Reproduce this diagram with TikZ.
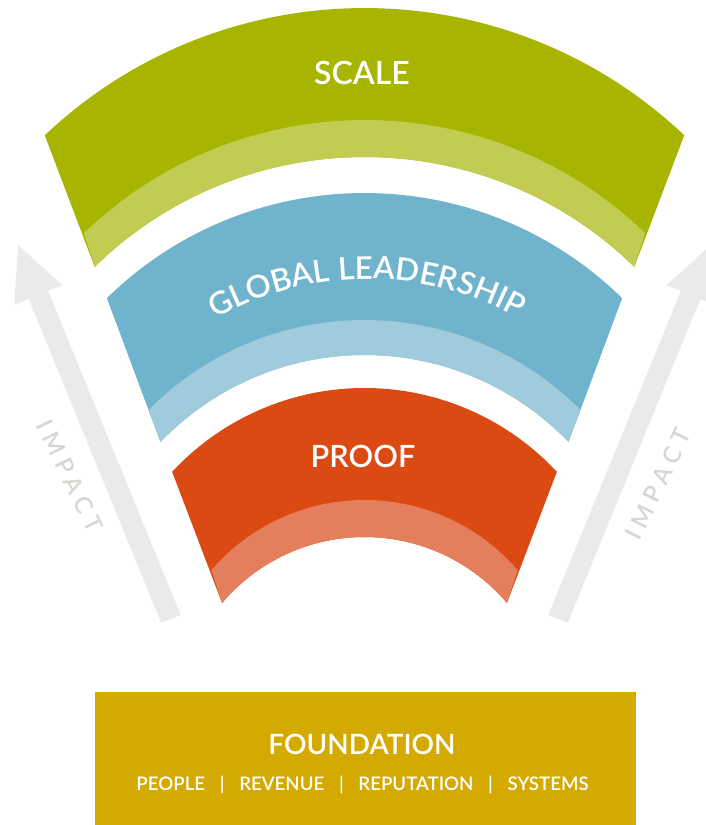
\documentclass[tikz,border=0pt]{standalone}
\usepackage{fontspec}
\IfFontExistsTF{Lato Semibold}{\setmainfont{Lato Semibold}}{%
  \IfFontExistsTF{Lato Medium}{\setmainfont{Lato Medium}}{%
    \setmainfont{Lato}[UprightFeatures={FakeBold=1.2}]}}
\usetikzlibrary{decorations.text}

\definecolor{scaleDark}{RGB}{168,181,0}
\definecolor{scaleLight}{RGB}{194,204,82}
\definecolor{globalDark}{RGB}{112,179,204}
\definecolor{globalLight}{RGB}{159,203,220}
\definecolor{proofDark}{RGB}{220,74,20}
\definecolor{proofLight}{RGB}{229,126,92}
\definecolor{foundGold}{RGB}{212,170,0}
\definecolor{impactFill}{RGB}{234,234,232}
\definecolor{impactText}{RGB}{214,214,211}

\begin{document}
\begin{tikzpicture}[x=0.75pt,y=0.75pt,yscale=-1,xscale=1,
  band label/.style={text=white, inner sep=0.75pt},
  impact arrow/.style={fill=impactFill},
  impact label/.style={text=impactText, inner sep=0.75pt, font=\fontsize{18}{18}\selectfont\addfontfeatures{LetterSpace=26}}]
\useasboundingbox (0,0) rectangle (706,825);
\clip (0,0) rectangle (706,825);

%Shape: Arrow [left]
\fill[impact arrow] (161.3,623) -- (28.7,299) -- (14.3,304.8) -- (18,245) -- (62.5,285.2) -- (48.1,291) -- (180.7,615) -- cycle;
%Shape: Arrow [right]
\fill[impact arrow] (567.7,623) -- (700.3,299) -- (714.7,304.8) -- (711,245) -- (666.5,285.2) -- (680.9,291) -- (548.3,615) -- cycle;

%Shape: Band [scale]
\fill[scaleDark] ([shift={(226.6:465.4)}]364.5,473.4) arc[start angle=226.6, end angle=313.4, radius=465.4] -- ([shift={(314.3:386.4)}]364.5,543.4) arc[start angle=314.3, end angle=225.7, radius=386.4] -- cycle;
\fill[scaleLight] ([shift={(226.1:404.6)}]364.5,524.6) arc[start angle=226.1, end angle=313.9, radius=404.6] -- ([shift={(314.3:386.4)}]364.5,543.4) arc[start angle=314.3, end angle=225.7, radius=386.4] -- cycle;

%Shape: Band [global leadership]
\fill[globalDark] ([shift={(225.6:368.2)}]364.5,561.2) arc[start angle=225.6, end angle=314.4, radius=368.2] -- ([shift={(316.2:282.7)}]364.5,637.7) arc[start angle=316.2, end angle=223.8, radius=282.7] -- cycle;
\fill[globalLight] ([shift={(224.8:304.2)}]364.5,624.2) arc[start angle=224.8, end angle=315.2, radius=304.2] -- ([shift={(316.2:282.7)}]364.5,637.7) arc[start angle=316.2, end angle=223.8, radius=282.7] -- cycle;

%Shape: Band [proof]
\fill[proofDark] ([shift={(222.9:262.6)}]364.5,650.6) arc[start angle=222.9, end angle=317.1, radius=262.6] -- ([shift={(319.7:186.8)}]364.5,723.8) arc[start angle=319.7, end angle=220.3, radius=186.8] -- cycle;
\fill[proofLight] ([shift={(220.8:202.2)}]364.5,702.2) arc[start angle=220.8, end angle=319.2, radius=202.2] -- ([shift={(319.7:186.8)}]364.5,723.8) arc[start angle=319.7, end angle=220.3, radius=186.8] -- cycle;

%Shape: Rectangle [foundation]
\fill[foundGold] (95,692) rectangle (636,830);

% Text Node
\draw (362,73) node [band label, font=\fontsize{24}{24}\selectfont] (scale) {SCALE};
% Text Node
\path[decorate, decoration={text along path, text align=center, text={|\fontsize{23.5}{23.5}\selectfont\color{white}|GLOBAL LEADERSHIP}}] ([shift={(232:310)}]367,589) arc[start angle=232, end angle=308, radius=310];
% Text Node
\draw (363,456) node [band label, font=\fontsize{23}{23}\selectfont] (proof) {PROOF};
% Text Node
\draw (70,476) node [impact label, rotate=-64] (impactL) {IMPACT};
% Text Node
\draw (658,484) node [impact label, rotate=64] (impactR) {IMPACT};
% Text Node
\draw (362,744) node [band label, font=\fontsize{21}{21}\selectfont] (foundation) {FOUNDATION};
% Text Node
\draw (362.5,785) node [band label, font=\fontsize{14}{14}\selectfont] (pillars) {PEOPLE\hspace{11pt}|\hspace{11pt}REVENUE\hspace{11pt}|\hspace{11pt}REPUTATION\hspace{11pt}|\hspace{11pt}SYSTEMS};

\end{tikzpicture}
\end{document}
